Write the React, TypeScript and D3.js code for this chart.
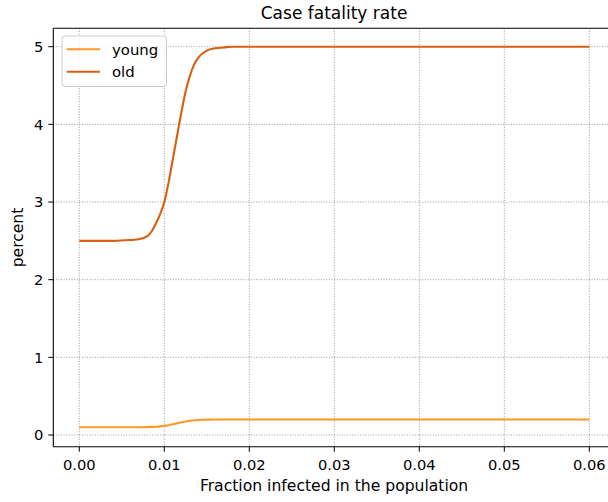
import React from "react";
import * as d3 from "d3";

const xValues = [0, 0.002, 0.004, 0.006, 0.007, 0.008, 0.0085, 0.009, 0.0095, 0.01, 0.0105, 0.011, 0.0115, 0.012, 0.0125, 0.013, 0.0135, 0.014, 0.015, 0.016, 0.017, 0.018, 0.02, 0.03, 0.04, 0.05, 0.06];
const youngValues = [0.1, 0.1, 0.1, 0.1, 0.1, 0.102, 0.104, 0.107, 0.111, 0.117, 0.126, 0.138, 0.15, 0.163, 0.175, 0.184, 0.19, 0.194, 0.198, 0.199, 0.2, 0.2, 0.2, 0.2, 0.2, 0.2, 0.2];
const oldValues = [2.5, 2.5, 2.5, 2.51, 2.52, 2.56, 2.62, 2.72, 2.84, 3.0, 3.25, 3.55, 3.85, 4.15, 4.42, 4.62, 4.77, 4.86, 4.95, 4.98, 4.99, 5.0, 5.0, 5.0, 5.0, 5.0, 5.0];
const xTicks = [0, 0.01, 0.02, 0.03, 0.04, 0.05, 0.06];
const yTicks = [0, 1, 2, 3, 4, 5];
const seriesNames = ["young", "old"];
const seriesColors = ["#fe9929", "#d95f0e"];

const W = 608, H = 502;
const left = 53.3, top = 28.3, bottom = 446.7;
const x = d3.scaleLinear().domain([0, 0.06]).range([79.3, 589.3]);
const y = d3.scaleLinear().domain([0, 5]).range([435, 46.7]);
const right = x(0.063);

export default function App() {
  const series = [youngValues, oldValues];
  const line = d3.line<number>().x((_, i) => x(xValues[i])).y(d => y(d)).curve(d3.curveMonotoneX);
  const font = "DejaVu Sans, sans-serif";
  return (
    <svg width={W} height={H} style={{ position: "absolute", left: 0, top: 0, background: "#fff" }} fontFamily={font}>
      <rect x={0} y={0} width={W} height={H} fill="#fff" />
      {xTicks.map(t => (
        <line key={"gx" + t} x1={x(t)} x2={x(t)} y1={top} y2={bottom} stroke="#808080" strokeWidth={0.8} strokeDasharray="1,1.6" />
      ))}
      {yTicks.map(t => (
        <line key={"gy" + t} x1={left} x2={right} y1={y(t)} y2={y(t)} stroke="#808080" strokeWidth={0.8} strokeDasharray="1,1.6" />
      ))}
      {series.map((s, i) => (
        <path key={seriesNames[i]} d={line(s) || ""} fill="none" stroke={seriesColors[i]} strokeWidth={2.1} />
      ))}
      <line x1={left} x2={left} y1={top} y2={bottom} stroke="#000" strokeWidth={1.1} />
      <line x1={left} x2={right} y1={bottom} y2={bottom} stroke="#000" strokeWidth={1.1} />
      <line x1={left} x2={right} y1={top} y2={top} stroke="#000" strokeWidth={1.1} />
      <line x1={right} x2={right} y1={top} y2={bottom} stroke="#000" strokeWidth={1.1} />
      {xTicks.map(t => (
        <g key={"tx" + t}>
          <line x1={x(t)} x2={x(t)} y1={bottom} y2={bottom + 5} stroke="#000" strokeWidth={1} />
          <text x={x(t)} y={470} textAnchor="middle" fontSize={14.7} fill="#000">{d3.format(".2f")(t)}</text>
        </g>
      ))}
      {yTicks.map(t => (
        <g key={"ty" + t}>
          <line x1={left - 5} x2={left} y1={y(t)} y2={y(t)} stroke="#000" strokeWidth={1} />
          <text x={left - 10} y={y(t)} dy="0.36em" textAnchor="end" fontSize={14.7} fill="#000">{String(t)}</text>
        </g>
      ))}
      <text x={(left + right) / 2} y={19} textAnchor="middle" fontSize={17} fill="#000">Case fatality rate</text>
      <text x={(left + right) / 2} y={491} textAnchor="middle" fontSize={15.6} fill="#000">Fraction infected in the population</text>
      <text transform={`translate(22.5,${(top + bottom) / 2}) rotate(-90)`} textAnchor="middle" fontSize={15.6} fill="#000">percent</text>
      <g>
        <rect x={62} y={36} width={104.5} height={50.5} rx={3} fill="#fff" fillOpacity={0.8} stroke="#cccccc" strokeWidth={1} />
        {seriesNames.map((n, i) => (
          <g key={"lg" + n}>
            <line x1={66.7} x2={100} y1={49.3 + i * 22.4} y2={49.3 + i * 22.4} stroke={seriesColors[i]} strokeWidth={2.1} />
            <text x={112} y={49.3 + i * 22.4} dy="0.35em" fontSize={14.9} fill="#000">{n}</text>
          </g>
        ))}
      </g>
    </svg>
  );
}
